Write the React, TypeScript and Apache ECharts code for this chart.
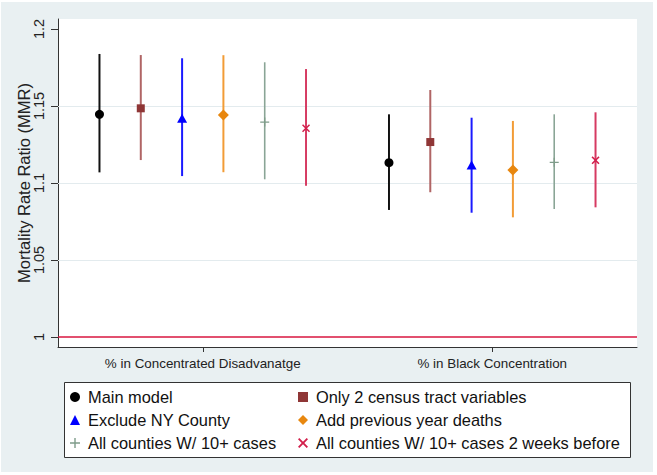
import React, { useEffect, useRef } from "react";
import * as echarts from "echarts";

const categories = ["% in Concentrated Disadvanatge", "% in Black Concentration"];
const models = [
  "Main model",
  "Only 2 census tract variables",
  "Exclude NY County",
  "Add previous year deaths",
  "All counties W/ 10+ cases",
  "All counties W/ 10+ cases 2 weeks before",
];
// point estimates per model: [group 1, group 2]
const mainModel = [1.1446, 1.1132];
const twoCensus = [1.1485, 1.1266];
const excludeNY = [1.142, 1.1117];
const prevDeaths = [1.1442, 1.1084];
const allCounties = [1.1396, 1.1134];
const twoWeeks = [1.1355, 1.1147];
const estimates = [mainModel, twoCensus, excludeNY, prevDeaths, allCounties, twoWeeks];
// lower / upper CI bounds
const lowerCI = [
  [1.1069, 1.0825],
  [1.1149, 1.094],
  [1.1045, 1.0807],
  [1.107, 1.0777],
  [1.1024, 1.0831],
  [1.0982, 1.0842],
];
const upperCI = [
  [1.1838, 1.1446],
  [1.1831, 1.1604],
  [1.181, 1.1424],
  [1.183, 1.1403],
  [1.1784, 1.1446],
  [1.174, 1.1459],
];
const yTicks = [1, 1.05, 1.1, 1.15, 1.2];
const gridValues = [1.05, 1.1, 1.15];
const refValue = 1;

const markerColors = ["#000000", "#8f3636", "#0000ff", "#e8870f", "#7f9c8a", "#d21f4b"];
const barColors = ["#111111", "#b06565", "#1a1aff", "#f29c36", "#8aa596", "#d63a62"];
const barWidths = [2, 2, 2, 2, 1.6, 2];
const symbols = [
  "circle",
  "rect",
  "triangle",
  "diamond",
  "path://M0,4.3 L4.3,4.3 L4.3,0 L5.7,0 L5.7,4.3 L10,4.3 L10,5.7 L5.7,5.7 L5.7,10 L4.3,10 L4.3,5.7 L0,5.7 Z",
  "path://M0,1.3 L1.3,0 L5,3.7 L8.7,0 L10,1.3 L6.3,5 L10,8.7 L8.7,10 L5,6.3 L1.3,10 L0,8.7 L3.7,5 Z",
];
const symbolSizes = [9, 8, [10, 9], [11, 11], 9, 8];

const FONT = "'Liberation Sans', Arial, Helvetica, sans-serif";
const SPACING = 0.1427; // offset between models within a group, in hidden axis units

export default function App() {
  const ref = useRef<HTMLDivElement>(null);
  useEffect(() => {
    document.body.style.margin = "0";
    if (!ref.current) return;
    const chart = echarts.init(ref.current, null, { renderer: "svg" });
    const xOf = (g: number, m: number) => g + 0.5 + (m - 2.5) * SPACING;

    const series: any[] = [];
    models.forEach((name, m) => {
      series.push({
        type: "custom",
        xAxisIndex: 1,
        yAxisIndex: 0,
        z: 2,
        silent: true,
        encode: { x: 0, y: [1, 2] },
        data: categories.map((_, g) => [xOf(g, m), lowerCI[m][g], upperCI[m][g]]),
        renderItem: (params: any, api: any) => {
          const x = api.value(0);
          const lo = api.coord([x, api.value(1)]);
          const hi = api.coord([x, api.value(2)]);
          return {
            type: "line",
            shape: { x1: lo[0], y1: lo[1], x2: hi[0], y2: hi[1] },
            style: { stroke: barColors[m], lineWidth: barWidths[m] },
          };
        },
        markLine:
          m === 0
            ? {
                silent: true,
                symbol: "none",
                label: { show: false },
                z: 1,
                data: [
                  ...gridValues.map((v) => ({
                    yAxis: v,
                    lineStyle: { color: "#e3ebee", width: 1, type: "solid" },
                  })),
                  { yAxis: refValue, lineStyle: { color: "#d9163f", width: 1.5, type: "solid" } },
                ],
              }
            : undefined,
      });
      series.push({
        type: "scatter",
        name,
        xAxisIndex: 1,
        yAxisIndex: 0,
        z: 3,
        symbol: symbols[m],
        symbolSize: symbolSizes[m],
        itemStyle: { color: markerColors[m], opacity: 1 },
        data: categories.map((_, g) => [xOf(g, m), estimates[m][g]]),
      });
    });

    const legendCommon = {
      orient: "vertical",
      top: 388,
      padding: 0,
      itemWidth: 10,
      itemHeight: 10,
      itemGap: 5,
      z: 10,
      selectedMode: false,
      textStyle: {
        fontFamily: FONT,
        fontSize: 16.4,
        color: "#111",
        lineHeight: 18,
        padding: [0, 0, 0, 3],
      },
    };

    chart.setOption({
      animation: false,
      backgroundColor: "#ffffff",
      textStyle: { fontFamily: FONT },
      graphic: [
        {
          type: "rect",
          z: -10,
          silent: true,
          shape: { x: 1, y: 2, width: 652, height: 470 },
          style: { fill: "#e9f0f2" },
        },
        {
          type: "rect",
          z: 5,
          silent: true,
          shape: { x: 64.5, y: 382.5, width: 566, height: 75 },
          style: { fill: "#ffffff", stroke: "#333333", lineWidth: 1 },
        },
      ],
      grid: {
        left: 58,
        top: 19,
        right: 20,
        bottom: 128,
        show: true,
        backgroundColor: "#ffffff",
        borderWidth: 0,
      },
      legend: [
        { ...legendCommon, left: 70, data: [models[0], models[2], models[4]] },
        { ...legendCommon, left: 298, data: [models[1], models[3], models[5]] },
      ],
      xAxis: [
        {
          type: "category",
          data: categories,
          boundaryGap: true,
          axisLine: { show: true, lineStyle: { color: "#333", width: 1 } },
          axisTick: { show: true, alignWithLabel: true, length: 5, lineStyle: { color: "#333" } },
          axisLabel: { fontFamily: FONT, fontSize: 13.4, color: "#222", margin: 10 },
          splitLine: { show: false },
        },
        { type: "value", min: 0, max: 2, show: false },
      ],
      yAxis: [
        {
          type: "value",
          min: 0.9935,
          max: 1.2065,
          name: "Mortality Rate Ratio (MMR)",
          nameLocation: "middle",
          nameGap: 26,
          nameMoveOverlap: false,
          nameRotate: 90,
          nameTextStyle: { fontFamily: FONT, fontSize: 16.5, color: "#222" },
          axisLine: { show: true, lineStyle: { color: "#333", width: 1 } },
          axisTick: { show: true, length: 7, customValues: yTicks, lineStyle: { color: "#333" } },
          axisLabel: {
            customValues: yTicks,
            rotate: 90,
            fontFamily: FONT,
            fontSize: 14.5,
            color: "#222",
            margin: 12,
            formatter: (v: number) => String(+Number(v).toFixed(2)),
          },
          splitLine: { show: false },
        },
      ],
      series,
    });
    return () => chart.dispose();
  }, []);
  return <div ref={ref} style={{ width: 657, height: 475 }} />;
}
